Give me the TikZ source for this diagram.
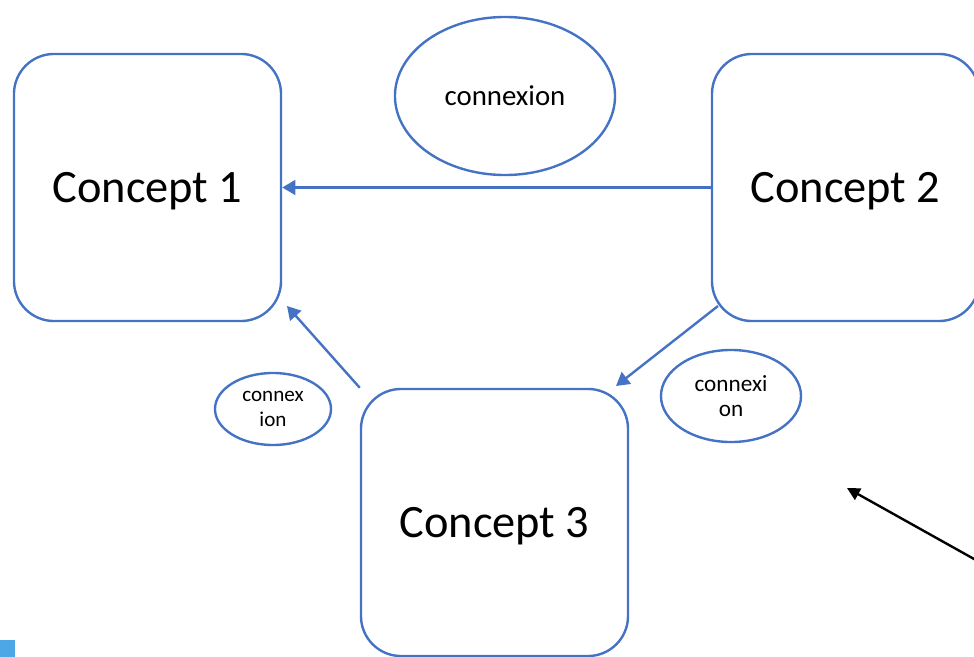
\documentclass[tikz,border=0pt]{standalone}
\usepackage{fontspec}
\setmainfont{Carlito}
\usetikzlibrary{shapes.geometric}
\usetikzlibrary{arrows.meta}
\definecolor{officeblue}{HTML}{4472C4}
\definecolor{tabblue}{HTML}{4DA6E6}
\newcommand{\bigtext}{\fontsize{33}{40}\selectfont}
\newcommand{\midtext}{\fontsize{20.5}{25}\selectfont}
\tikzset{
	concept/.style={draw=officeblue, line width=1.7pt, rounded corners=1cm,
		minimum width=6.675cm, minimum height=6.675cm, inner sep=0pt, text depth=0pt, font=\bigtext},
	link/.style={draw=officeblue, line width=1.7pt, ellipse, inner sep=0pt, align=center},
	linkarrow/.style={draw=officeblue, line width=1.7pt,
		-{Triangle[length=0.33cm,width=0.37cm]}, fill=officeblue},
}

\begin{document}
\begin{tikzpicture}[x=0.025cm,y=-0.025cm]
	\useasboundingbox (0,0) rectangle (974,657);
	\node[concept] (c1) at (147.5,187.5){Concept 1};
	\node[concept] (c2) at (845.5,187.5){Concept 2};
	\node[concept] (c3) at (494.5,522.5){Concept 3};
	\node[link, minimum width=5.5cm, minimum height=3.95cm, font=\midtext] (l12) at (505,96){connexion};
	\node[link, minimum width=2.9cm, minimum height=1.8cm, font=\fontsize{15}{17.8}\selectfont] (l31) at (273,409){connex\\ion};
	\node[link, minimum width=3.5cm, minimum height=2.3cm, font=\fontsize{16.5}{18.3}\selectfont] (l23) at (731,396){connexi\\on};
	\coordinate (t1) at (287,306);%tip on concept 1
	\coordinate (s2) at (718,306);%start on concept 2
	\coordinate (t3) at (616,386);%tip on concept 3
	\coordinate (far) at (1000,573.5);
	\coordinate (tip) at (847,488);
	\draw[linkarrow] (c2.west) -- (c1.east);
	\draw[linkarrow] (c3.north west) -- (t1);
	\draw[linkarrow] (s2) -- (t3);
	\draw[line width=1.7pt, -{Triangle[length=0.32cm,width=0.32cm]}] (far) -- (tip);
	\fill[tabblue] (0,640) rectangle (15,657);
\end{tikzpicture}
\end{document}
